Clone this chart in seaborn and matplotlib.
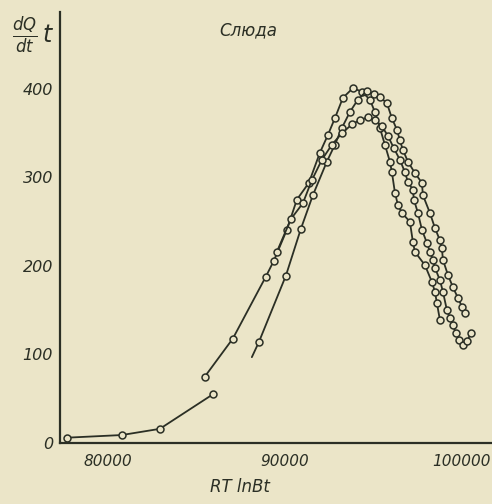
import matplotlib
matplotlib.use("Agg")
import matplotlib.pyplot as plt
import seaborn as sns
import pandas as pd

# ---- data ----
low_x = [77684, 80791, 82938, 85933]
low_y = [6, 9, 16, 55]

a_x = [85480, 87063, 88927, 89379, 90114, 90679, 91357, 91978, 92430, 92826,
       93278, 93843, 94351, 94803, 95086, 95368, 95651, 95933, 96046, 96216,
       96385, 96611, 97063, 97233, 97346, 97911, 98306, 98476, 98589, 98758]
a_y = [75, 118, 188, 206, 241, 275, 294, 328, 348, 367,
       390, 401, 397, 388, 374, 356, 337, 318, 306, 283,
       269, 260, 250, 227, 216, 201, 182, 171, 158, 139]

b_x = [88136, 88532, 90057, 90905, 91583, 92374, 92826, 93221, 93673, 94125,
       94634, 95029, 95368, 95764, 96046, 96329, 96498, 96668, 96950, 97346,
       97741, 97798, 98193, 98476, 98758, 98871, 98928, 99210, 99493, 99775,
       100001, 100171]
b_y = [97, 114, 189, 242, 280, 318, 337, 356, 374, 388,
       398, 394, 391, 384, 367, 354, 342, 331, 318, 305,
       294, 280, 260, 243, 229, 220, 207, 190, 176, 164,
       154, 147]

c_x = [89549, 90340, 91018, 91526, 92091, 92656, 93221, 93786, 94238, 94690,
       95086, 95481, 95820, 96159, 96498, 96781, 96950, 97233, 97289, 97515,
       97741, 98024, 98193, 98363, 98476, 98758, 98928, 99154, 99323, 99493,
       99662, 99832, 100058, 100284, 100510]
c_y = [216, 253, 271, 297, 320, 337, 350, 360, 365, 368,
       365, 358, 347, 333, 320, 306, 295, 286, 275, 260,
       241, 226, 216, 207, 198, 184, 171, 150, 141, 133,
       124, 116, 111, 115, 124]

x_ticks = [80000, 90000, 100000]
y_ticks = [0, 100, 200, 300, 400]

title_text = "Слюда"
x_label = "RT lnBt"
y_label = r"$\frac{dQ}{dt}\,t$"

# ---- style ----
bg = "#ebe5c8"
ink = "#2b2f25"
sns.set_theme(style="white")
plt.rcParams["font.family"] = ["DejaVu Sans"]

fig = plt.figure(figsize=(4.92, 5.04), dpi=100, facecolor=bg)
ax = fig.add_axes([60 / 492, 61 / 504, 432 / 492, 431 / 504])
ax.set_facecolor(bg)

mk = dict(marker="o", markersize=5, markerfacecolor=bg, markeredgecolor=ink,
          markeredgewidth=1.1, color=ink, linewidth=1.3)

curves = [(low_x, low_y, None), (a_x, a_y, None),
          (b_x, b_y, list(range(1, len(b_x)))), (c_x, c_y, None)]
for xs, ys, every in curves:
    df = pd.DataFrame({"x": xs, "y": ys})
    kw = dict(mk)
    if every is not None:
        kw["markevery"] = every
    sns.lineplot(data=df, x="x", y="y", ax=ax, sort=False, estimator=None, **kw)

ax.set_xlim(77300, 101700)
ax.set_ylim(0, 487)

for s in ["top", "right"]:
    ax.spines[s].set_visible(False)
for s in ["left", "bottom"]:
    ax.spines[s].set_color(ink)
    ax.spines[s].set_linewidth(1.6)

ax.set_xticks(x_ticks)
ax.set_xticklabels([str(v) for v in x_ticks], fontstyle="italic", fontsize=11, color=ink)
ax.set_yticks(y_ticks)
ax.set_yticklabels([str(v) for v in y_ticks], fontstyle="italic", fontsize=11.5, color=ink)
ax.tick_params(axis="both", direction="in", length=6, width=1.3, color=ink, pad=5)
ax.tick_params(axis="x", pad=8)
ax.set_xlabel("")
ax.set_ylabel("")

fig.text(240 / 492, 1 - 487 / 504, x_label, fontstyle="italic", fontsize=12,
         color=ink, ha="center", va="center")
fig.text(248 / 492, 1 - 30 / 504, title_text, fontstyle="italic", fontsize=12,
         color=ink, ha="center", va="center")
fig.text(33 / 492, 1 - 35 / 504, y_label, fontsize=17, color=ink,
         ha="center", va="center")

fig.savefig("out.png", dpi=100, facecolor=bg)
